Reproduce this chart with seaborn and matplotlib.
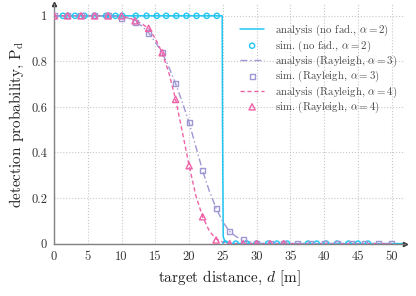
import matplotlib
matplotlib.use("Agg")
import matplotlib.pyplot as plt
import seaborn as sns
import numpy as np

# analysis curves
d_nofad = [0, 24.9, 24.95, 25.05, 25.3, 25.8, 52]
p_nofad = [1, 1, 0.5, 0.03, 0.01, 0, 0]

d_ana = list(range(0, 51))
p_ray3 = [1, 1, 1, 1, 1, 1, 1, 1, 1, 0.998, 0.995, 0.99, 0.975, 0.955, 0.925,
          0.885, 0.838, 0.775, 0.703, 0.62, 0.531, 0.425, 0.32, 0.23, 0.155,
          0.095, 0.053, 0.03, 0.015, 0.007, 0.003] + [0] * 20
p_ray4 = [1, 1, 1, 1, 1, 1, 1, 1, 1, 0.999, 0.997, 0.993, 0.98, 0.965, 0.945,
          0.90, 0.838, 0.75, 0.633, 0.49, 0.342, 0.21, 0.118, 0.055, 0.02,
          0.006, 0.001] + [0] * 24

# simulation points
d_sim_nofad = [1.3, 2.1, 3.1, 4.5, 6.0, 7.7, 8.2, 9.1, 10.1, 12.1, 13.7, 15.2,
               16.6, 18.1, 19.6, 21.1, 22.6, 24.1,
               25.4, 26.9, 28.5, 30.0, 31.7, 33.0, 34.5, 37.6, 38.9, 40.3,
               41.9, 43.6, 45.0, 46.5]
p_sim_nofad = [1] * 18 + [0] * 14

d_sim_ray3 = list(range(0, 51, 2))
p_sim_ray3 = [1, 1, 1, 1, 1, 0.989, 0.97, 0.925, 0.838, 0.703, 0.531, 0.32,
              0.155, 0.053, 0.016] + [0] * 11

d_sim_ray4 = list(range(0, 35, 2))
p_sim_ray4 = [1, 1, 1, 1, 1, 1, 0.978, 0.945, 0.838, 0.633, 0.342, 0.118,
              0.016, 0, 0, 0, 0, 0]

c_cyan = "#1fc6f2"
c_lav = "#9d98d3"
c_pink = "#ef62a8"

sns.set_style("white")
plt.rcParams["font.family"] = "serif"
plt.rcParams["font.serif"] = ["cmr10"]
plt.rcParams["mathtext.fontset"] = "cm"
plt.rcParams["axes.unicode_minus"] = False
plt.rcParams["axes.formatter.use_mathtext"] = True

fig = plt.figure(figsize=(4.16, 2.96), dpi=100)
ax = fig.add_axes([0.130, 0.177, 0.844, 0.808])

sns.lineplot(x=d_nofad, y=p_nofad, ax=ax, color=c_cyan, lw=1.1,
             label=r"analysis (no fad., $\alpha = 2$)")
sns.scatterplot(x=d_sim_nofad, y=p_sim_nofad, ax=ax, marker="o", s=14,
                fc="none", ec=c_cyan, linewidth=1.0, zorder=4,
                label=r"sim. (no fad., $\alpha = 2$)")
sns.lineplot(x=d_ana, y=p_ray3, ax=ax, color=c_lav, lw=1.0,
             dashes=(5, 2, 1, 2), label=r"analysis (Rayleigh, $\alpha = 3$)")
sns.scatterplot(x=d_sim_ray3, y=p_sim_ray3, ax=ax, marker="s", s=14,
                fc="none", ec=c_lav, linewidth=1.0, zorder=4,
                label=r"sim. (Rayleigh, $\alpha = 3$)")
sns.lineplot(x=d_ana, y=p_ray4, ax=ax, color=c_pink, lw=1.0,
             dashes=(3, 2), label=r"analysis (Rayleigh, $\alpha = 4$)")
sns.scatterplot(x=d_sim_ray4, y=p_sim_ray4, ax=ax, marker="^", s=20,
                fc="none", ec=c_pink, linewidth=1.0, zorder=4,
                label=r"sim. (Rayleigh, $\alpha = 4$)")

ax.set_xlim(0, 52)
ax.set_ylim(0, 1.05)
ax.set_xticks([0, 5, 10, 15, 20, 25, 30, 35, 40, 45, 50])
ax.set_yticks([0, 0.2, 0.4, 0.6, 0.8, 1.0])
ax.set_yticklabels(["0", "0.2", "0.4", "0.6", "0.8", "1"])
ax.set_xticklabels([str(v) for v in [0, 5, 10, 15, 20, 25, 30, 35, 40, 45, 50]])
ax.tick_params(length=0, labelsize=9, pad=5, colors="#333333")
ax.grid(True, ls=":", color="#c8c8c8", lw=0.8)

for s in ["top", "right"]:
    ax.spines[s].set_visible(False)
for s in ["left", "bottom"]:
    ax.spines[s].set_color("#808080")
    ax.spines[s].set_linewidth(1.0)
ax.plot(1, 0, ">", color="#333333", ms=3, transform=ax.get_yaxis_transform(), clip_on=False)
ax.plot(0, 1, "^", color="#333333", ms=3, transform=ax.get_xaxis_transform(), clip_on=False)

ax.set_xlabel(r"target distance, $d$ [m]", fontsize=11, color="#222222")
ax.set_ylabel(r"detection probability, $\mathrm{P_d}$", fontsize=11, color="#222222")

leg = ax.legend(loc="upper right", bbox_to_anchor=(0.99, 0.94), frameon=False,
                fontsize=7.8, handlelength=2.2, labelspacing=0.0,
                handletextpad=1.0, borderaxespad=0.0)
for t in leg.get_texts():
    t.set_color("#444444")

fig.savefig("out.png", dpi=100)
